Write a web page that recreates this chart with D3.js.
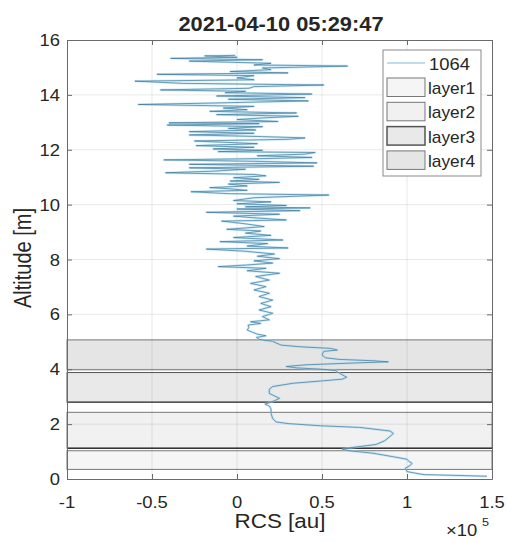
<!DOCTYPE html>
<html>
<head>
<meta charset="utf-8">
<script src="https://cdn.jsdelivr.net/npm/d3@7"></script>
<style>
  html, body { margin: 0; padding: 0; background: #fff; }
  svg { display: block; }
  text { font-family: "Liberation Sans", Arial, Helvetica, sans-serif; fill: #262626; }
</style>
</head>
<body>
<svg id="chart" width="507" height="542"></svg>
<script>
// ---------------- DATA ----------------
const title = "2021-04-10 05:29:47";
const xTicks = [-1, -0.5, 0, 0.5, 1, 1.5];
const xTickLabels = ["-1", "-0.5", "0", "0.5", "1", "1.5"];
const yTicks = [0, 2, 4, 6, 8, 10, 12, 14, 16];
const yTickLabels = ["0", "2", "4", "6", "8", "10", "12", "14", "16"];
const seriesName = "1064";

// Layer bounds (altitude, m)
const layerNames = ["layer1", "layer2", "layer3", "layer4"];
const layerBottoms = [0.35, 1.12, 2.80, 3.98];
const layerTops = [1.03, 2.43, 3.88, 5.07];

// RCS profile (units of 1e5 au), bottom to top
const altitude = [
  0.10,0.13,0.16,0.20,0.27,0.39,0.50,0.57,0.65,0.72,0.81,0.94,1.03,1.08,1.15,1.26,1.40,1.55,1.66,1.75,
  1.88,1.94,2.02,2.08,2.20,2.39,2.55,2.66,2.73,2.80,2.88,2.94,3.03,3.12,3.27,3.37,3.49,3.58,3.64,3.71,
  3.83,3.95,4.00,4.05,4.10,4.16,4.22,4.27,4.31,4.36,4.42,4.52,4.65,4.70,4.76,4.82,4.88,4.96,5.02,5.05,
  5.09,5.16,5.22,5.28,5.35,5.43,5.52,5.61,5.67,5.73,5.80,5.92,6.04,6.16,6.28,6.40,6.52,6.65,6.77,6.89,
  7.01,7.13,7.25,7.38,7.50,7.59,7.68,7.74,7.80,7.87,7.95,8.03,8.12,8.20,8.30,8.38,8.42,8.49,8.58,8.65,
  8.71,8.80,8.88,8.96,9.04,9.10,9.20,9.30,9.40,9.44,9.52,9.58,9.65,9.72,9.78,9.84,9.88,9.92,9.97,10.03,
  10.10,10.15,10.25,10.35,10.40,10.47,10.52,10.58,10.62,10.68,10.75,10.81,10.86,10.92,10.98,11.05,11.10,11.16,11.22,11.29,
  11.34,11.40,11.47,11.52,11.58,11.63,11.68,11.72,11.78,11.84,11.90,11.93,11.98,12.03,12.09,12.15,12.22,12.32,12.38,12.43,
  12.48,12.54,12.60,12.66,12.72,12.78,12.84,12.90,12.95,12.98,13.03,13.10,13.16,13.22,13.28,13.34,13.40,13.46,13.52,13.58,
  13.65,13.70,13.78,13.84,13.90,13.96,14.03,14.08,14.13,14.18,14.24,14.30,14.36,14.42,14.50,14.55,14.62,14.70,14.75,14.80,
  14.85,14.92,14.98,15.05,15.09,15.15,15.23,15.28,15.33,15.37,15.42,15.44
];
const rcs = [
  1.47,1.30,1.10,1.06,1.00,0.99,1.02,1.03,1.01,1.00,0.92,0.80,0.66,0.62,0.68,0.82,0.87,0.90,0.92,0.90,
  0.72,0.49,0.30,0.23,0.21,0.20,0.20,0.19,0.165,0.20,0.23,0.25,0.22,0.19,0.19,0.21,0.33,0.51,0.62,0.645,
  0.61,0.58,0.50,0.35,0.29,0.40,0.65,0.89,0.80,0.60,0.52,0.50,0.51,0.59,0.55,0.37,0.26,0.23,0.21,0.17,
  0.13,0.115,0.17,0.12,0.09,0.06,0.07,0.065,0.14,0.08,0.19,0.15,0.21,0.13,0.20,0.14,0.21,0.13,0.19,0.10,
  0.17,0.08,0.19,0.11,0.25,0.06,0.17,-0.11,0.06,0.21,0.10,0.25,0.12,0.22,0.05,-0.18,0.30,0.06,0.18,-0.10,
  0.27,-0.02,0.20,0.05,0.14,-0.06,0.16,0.05,-0.09,0.29,0.10,-0.02,0.25,-0.18,0.37,0.00,0.43,0.05,0.29,0.00,
  0.20,-0.02,0.10,0.54,-0.05,-0.27,0.06,-0.05,-0.16,0.06,-0.05,0.25,-0.04,0.13,-0.02,0.17,0.10,-0.42,-0.14,0.05,
  -0.28,0.45,-0.28,0.47,0.10,-0.43,0.18,0.44,0.12,0.40,0.46,-0.11,0.15,-0.14,0.10,-0.24,0.12,-0.25,0.30,0.40,
  0.15,-0.28,0.10,-0.28,0.11,-0.05,0.15,-0.41,0.13,-0.40,0.24,0.00,0.15,0.36,-0.12,0.35,-0.16,0.06,-0.08,0.10,
  -0.58,-0.16,0.42,-0.05,0.40,-0.12,0.44,-0.07,0.05,-0.45,0.07,0.10,0.51,-0.32,-0.60,0.10,0.00,0.10,-0.47,0.30,
  -0.04,0.20,0.15,0.65,0.10,0.20,-0.28,0.15,-0.39,0.00,-0.19,-0.01
];

// ---------------- STYLE / LAYOUT ----------------
const SX = 1.15; // horizontal text stretch seen in the reference
const M = { left: 67, right: 492, top: 40, bottom: 479 };
const layerFill = ["#f5f5f5", "#f1f1f1", "#e9e9e9", "#e5e5e5"];
const layerStroke = ["#777", "#777", "#555", "#777"];

const svg = d3.select("#chart");
const x = d3.scaleLinear().domain([-1, 1.5]).range([M.left, M.right]);
const y = d3.scaleLinear().domain([0, 16]).range([M.bottom, M.top]);

function txt(g, px, py, s, o = {}) {
  return g.append("text")
    .attr("transform", `translate(${px},${py}) scale(${o.sx || SX},1)`)
    .attr("text-anchor", o.anchor || "start")
    .style("font-size", (o.size || 15) + "px")
    .style("font-weight", o.weight || "normal")
    .text(s);
}

svg.append("rect").attr("x", M.left).attr("y", M.top)
  .attr("width", M.right - M.left).attr("height", M.bottom - M.top).attr("fill", "#fff");

// layers
const plot = svg.append("g");
layerNames.forEach((n, i) => {
  plot.append("rect")
    .attr("x", x(-1)).attr("width", x(1.5) - x(-1))
    .attr("y", y(layerTops[i])).attr("height", y(layerBottoms[i]) - y(layerTops[i]))
    .attr("fill", layerFill[i]).attr("stroke", layerStroke[i]).attr("stroke-width", 1);
});
[[1, "#333", 1.6], [2, "#555", 1.6]].forEach(([i, c, w]) => {
  plot.append("line").attr("x1", x(-1)).attr("x2", x(1.5))
    .attr("y1", y(layerBottoms[i])).attr("y2", y(layerBottoms[i]))
    .attr("stroke", c).attr("stroke-width", w);
});

// grid
const grid = svg.append("g").attr("stroke", "rgba(38,38,38,0.10)").attr("stroke-width", 1);
xTicks.slice(1, -1).forEach(v => grid.append("line").attr("x1", x(v)).attr("x2", x(v)).attr("y1", y(0)).attr("y2", y(16)));
yTicks.slice(1, -1).forEach(v => grid.append("line").attr("x1", x(-1)).attr("x2", x(1.5)).attr("y1", y(v)).attr("y2", y(v)));

// trace
const pts = altitude.map((a, i) => [rcs[i], a]);
const line = d3.line().x(d => x(d[0])).y(d => y(d[1]));
svg.append("path").datum(pts).attr("d", line).attr("fill", "none")
  .attr("stroke", "#a8d8f2").attr("stroke-width", 2.4).attr("stroke-opacity", 0.55).attr("stroke-linejoin", "round");
svg.append("path").datum(pts).attr("d", line).attr("fill", "none")
  .attr("stroke", "#3e7898").attr("stroke-width", 0.7).attr("stroke-linejoin", "round");

// axes (ticks inside on all four sides)
const axCol = "#6a6a6a";
function styleAxis(g) {
  g.select(".domain").attr("stroke", axCol).attr("stroke-width", 1);
  g.selectAll(".tick line").attr("stroke", axCol);
  g.selectAll(".tick text").remove();
}
svg.append("g").attr("transform", `translate(0,${M.bottom})`)
  .call(d3.axisBottom(x).tickValues(xTicks).tickSizeInner(-5).tickSizeOuter(0).tickFormat("")).call(styleAxis);
svg.append("g").attr("transform", `translate(0,${M.top})`)
  .call(d3.axisTop(x).tickValues(xTicks).tickSizeInner(-5).tickSizeOuter(0).tickFormat("")).call(styleAxis);
svg.append("g").attr("transform", `translate(${M.left},0)`)
  .call(d3.axisLeft(y).tickValues(yTicks).tickSizeInner(-5).tickSizeOuter(0).tickFormat("")).call(styleAxis);
svg.append("g").attr("transform", `translate(${M.right},0)`)
  .call(d3.axisRight(y).tickValues(yTicks).tickSizeInner(-5).tickSizeOuter(0).tickFormat("")).call(styleAxis);

// tick labels
const lab = svg.append("g");
xTicks.forEach((v, i) => txt(lab, x(v), 508, xTickLabels[i], { anchor: "middle", size: 16 }));
yTicks.forEach((v, i) => txt(lab, 60, y(v) + 6, yTickLabels[i], { anchor: "end", size: 16 }));

// title & axis labels
txt(svg, 281, 31, title, { anchor: "middle", size: 19.5, weight: "bold", sx: 1.12 });
txt(svg, 280, 528, "RCS [au]", { anchor: "middle", size: 19.5 });
svg.append("text").attr("transform", `translate(31,258) rotate(-90) scale(1,${SX})`)
  .attr("text-anchor", "middle").style("font-size", "20px").text("Altitude [m]");
txt(svg, 446, 536, "\u00d710", { size: 16 });
txt(svg, 482, 526, "5", { size: 11 });

// legend
const lg = svg.append("g");
lg.append("rect").attr("x", 383).attr("y", 50).attr("width", 98).attr("height", 126)
  .attr("fill", "#fff").attr("stroke", "#8a8a8a").attr("stroke-width", 1);
lg.append("line").attr("x1", 387).attr("x2", 425).attr("y1", 63).attr("y2", 63)
  .attr("stroke", "#7fbadf").attr("stroke-width", 1);
txt(lg, 429, 70, seriesName, { size: 16 });
layerNames.forEach((n, i) => {
  const top = 78 + i * 24.3;
  lg.append("rect").attr("x", 387).attr("y", top).attr("width", 38).attr("height", 18.5)
    .attr("fill", layerFill[i]).attr("stroke", layerStroke[i]).attr("stroke-width", i === 2 ? 1.5 : 1);
  txt(lg, 428, top + 16, n, { size: 16, sx: 1.08 });
});
</script>
</body>
</html>
